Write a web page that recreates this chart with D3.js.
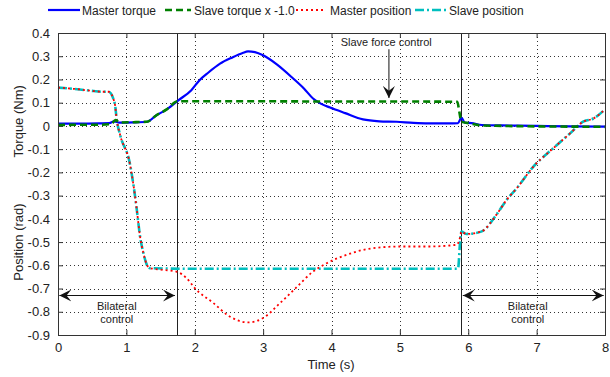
<!DOCTYPE html>
<html>
<head>
<meta charset="utf-8">
<script src="https://cdn.jsdelivr.net/npm/d3@7"></script>
<style>
  body { margin: 0; background: #fff; }
  svg text { font-family: "Liberation Sans", Arial, sans-serif; fill: #222; }
</style>
</head>
<body>
<svg id="chart" width="610" height="377"></svg>
<script>
// values
var xTicks = [0, 1, 2, 3, 4, 5, 6, 7, 8];
var yTicks = [0.4, 0.3, 0.2, 0.1, 0, -0.1, -0.2, -0.3, -0.4, -0.5, -0.6, -0.7, -0.8, -0.9];

var masterTorqueT = [0, 0.3, 0.6, 0.75, 0.82, 0.9, 1.1, 1.3, 1.44, 1.59, 1.76, 1.95, 2.07, 2.2, 2.37, 2.55, 2.7, 2.78, 2.88, 3.0, 3.2, 3.44, 3.6, 3.73, 3.85, 3.98, 4.2, 4.46, 4.7, 4.95, 5.2, 5.41, 5.7, 5.85, 5.9, 5.95, 6.05, 6.2, 6.5, 7.0, 7.5, 8.0];
var masterTorque  = [0.01, 0.01, 0.011, 0.012, 0.02, 0.014, 0.015, 0.018, 0.046, 0.071, 0.11, 0.154, 0.197, 0.23, 0.268, 0.295, 0.314, 0.321, 0.318, 0.304, 0.265, 0.204, 0.16, 0.118, 0.095, 0.079, 0.055, 0.028, 0.02, 0.018, 0.013, 0.011, 0.011, 0.012, 0.036, 0.014, 0.012, 0.004, 0.002, 0.0, -0.002, -0.003];

var slaveTorqueT = [0, 0.3, 0.6, 0.78, 0.84, 0.9, 1.1, 1.3, 1.44, 1.59, 1.75, 1.8, 3.0, 4.0, 5.0, 5.84, 5.87, 5.9, 6.0, 6.2, 6.5, 7.0, 7.5, 8.0];
var slaveTorque  = [0.004, 0.005, 0.005, 0.008, 0.025, 0.015, 0.016, 0.018, 0.046, 0.071, 0.106, 0.106, 0.106, 0.105, 0.105, 0.104, 0.06, 0.018, 0.012, 0.002, 0.0, -0.002, -0.003, -0.004];

var masterPosT = [0, 0.32, 0.52, 0.66, 0.74, 0.83, 0.86, 0.91, 1.05, 1.1, 1.15, 1.2, 1.25, 1.3, 1.345, 1.54, 1.73, 1.88, 2.0, 2.27, 2.51, 2.78, 3.0, 3.25, 3.49, 3.73, 3.93, 4.22, 4.51, 5.0, 5.41, 5.83, 5.88, 5.9, 5.97, 6.19, 6.41, 6.56, 6.71, 6.95, 7.24, 7.49, 7.68, 7.83, 8.0];
var masterPos  = [0.165, 0.157, 0.15, 0.147, 0.147, 0.097, 0.025, -0.04, -0.161, -0.247, -0.355, -0.476, -0.548, -0.598, -0.612, -0.62, -0.627, -0.655, -0.698, -0.762, -0.82, -0.846, -0.827, -0.762, -0.694, -0.627, -0.591, -0.555, -0.531, -0.519, -0.519, -0.512, -0.48, -0.455, -0.465, -0.455, -0.383, -0.319, -0.268, -0.176, -0.097, -0.032, 0.018, 0.032, 0.071];

var slavePosT = [0, 0.32, 0.52, 0.66, 0.74, 0.83, 0.86, 0.91, 1.05, 1.1, 1.15, 1.2, 1.25, 1.3, 1.345, 2.0, 3.0, 4.0, 5.0, 5.85, 5.88, 5.9, 5.97, 6.19, 6.41, 6.56, 6.71, 6.95, 7.24, 7.49, 7.68, 7.83, 8.0];
var slavePos  = [0.165, 0.157, 0.15, 0.147, 0.147, 0.097, 0.025, -0.04, -0.161, -0.247, -0.355, -0.476, -0.548, -0.598, -0.612, -0.615, -0.615, -0.615, -0.615, -0.615, -0.505, -0.455, -0.465, -0.455, -0.383, -0.319, -0.268, -0.176, -0.097, -0.032, 0.018, 0.032, 0.071];

var modeLines = [1.74, 5.895];

var svg = d3.select("#chart"),
    pl = 58, pr = 605, pt = 33, pb = 335;

var x = d3.scaleLinear().domain([0, 8]).range([pl, pr]);
var y = d3.scaleLinear().domain([-0.9, 0.4]).range([pb, pt]);
var fmt = function(d) { return String(Math.round(d * 10) / 10); };

// grid
var grid = svg.append("g").attr("stroke", "#333").attr("stroke-width", 1).attr("stroke-dasharray", "1,3");
grid.selectAll(".gx").data(xTicks.slice(1, -1)).enter().append("line")
  .attr("x1", function(d) { return Math.round(x(d)) + 0.5; }).attr("x2", function(d) { return Math.round(x(d)) + 0.5; })
  .attr("y1", pt).attr("y2", pb);
grid.selectAll(".gy").data(yTicks.slice(1, -1)).enter().append("line")
  .attr("y1", function(d) { return Math.round(y(d)) + 0.5; }).attr("y2", function(d) { return Math.round(y(d)) + 0.5; })
  .attr("x1", pl).attr("x2", pr);

// axes, ticks inside like matlab
function clean(g) { g.select(".domain").remove(); g.selectAll("text").attr("fill", "#222"); }
svg.append("g").attr("transform", "translate(0," + pb + ")")
  .call(d3.axisBottom(x).tickValues(xTicks).tickSizeInner(-5).tickSizeOuter(0).tickPadding(8).tickFormat(fmt))
  .call(clean).attr("font-size", 13);
svg.append("g").attr("transform", "translate(0," + pt + ")")
  .call(d3.axisTop(x).tickValues(xTicks).tickSizeInner(-5).tickSizeOuter(0).tickFormat(""))
  .call(clean);
svg.append("g").attr("transform", "translate(" + pl + ",0)")
  .call(d3.axisLeft(y).tickValues(yTicks).tickSizeInner(-5).tickSizeOuter(0).tickPadding(8).tickFormat(fmt))
  .call(clean).attr("font-size", 13);
svg.append("g").attr("transform", "translate(" + pr + ",0)")
  .call(d3.axisRight(y).tickValues(yTicks).tickSizeInner(-5).tickSizeOuter(0).tickFormat(""))
  .call(clean);
svg.selectAll(".tick line").attr("stroke", "#333");

// mode switch lines
svg.selectAll(".mode").data(modeLines).enter().append("line")
  .attr("x1", function(d) { return Math.round(x(d)) + 0.5; }).attr("x2", function(d) { return Math.round(x(d)) + 0.5; })
  .attr("y1", pt).attr("y2", pb).attr("stroke", "#222").attr("stroke-width", 1);

// series
var series = [
  {name: "Master torque", t: masterTorqueT, v: masterTorque, color: "#0000ff", w: 2.2, dash: null},
  {name: "Slave torque x -1.0", t: slaveTorqueT, v: slaveTorque, color: "#008000", w: 2.6, dash: "7,4"},
  {name: "Master position", t: masterPosT, v: masterPos, color: "#ff0000", w: 1.8, dash: "2,3"},
  {name: "Slave position", t: slavePosT, v: slavePos, color: "#00bfbf", w: 2.6, dash: "9,3,2,3"}
];
var line = d3.line().x(function(d) { return x(d[0]); }).y(function(d) { return y(d[1]); }).curve(d3.curveMonotoneX);
var drawOrder = [3, 2, 0, 1];
drawOrder.forEach(function(i) {
  var s = series[i];
  svg.append("path")
    .datum(s.t.map(function(t, k) { return [t, s.v[k]]; }))
    .attr("d", line).attr("fill", "none")
    .attr("stroke", s.color).attr("stroke-width", s.w)
    .attr("stroke-dasharray", s.dash);
});

// frame
svg.append("rect").attr("x", pl + 0.5).attr("y", pt + 0.5).attr("width", pr - pl).attr("height", pb - pt)
  .attr("fill", "none").attr("stroke", "#333").attr("stroke-width", 1);

// legend
var legLine = [[48, 80], [165, 191], [296, 324], [415, 446]];
var legText = [82, 194, 330, 449];
series.forEach(function(s, i) {
  var g = svg.append("g");
  g.append("line").attr("x1", legLine[i][0]).attr("x2", legLine[i][1]).attr("y1", 10).attr("y2", 10)
    .attr("stroke", s.color).attr("stroke-width", s.w).attr("stroke-dasharray", s.dash);
  g.append("text").attr("x", legText[i]).attr("y", 14.5).attr("font-size", 12).text(s.name);
});

// axis titles
svg.append("text").attr("x", 331).attr("y", 369).attr("text-anchor", "middle").attr("font-size", 13).text("Time (s)");
svg.append("text").attr("transform", "translate(23," + y(0.02) + ") rotate(-90)")
  .attr("text-anchor", "middle").attr("font-size", 13).text("Torque (Nm)");
svg.append("text").attr("transform", "translate(23," + y(-0.5) + ") rotate(-90)")
  .attr("text-anchor", "middle").attr("font-size", 13).text("Position (rad)");

// annotations
var defs = svg.append("defs");
defs.append("marker").attr("id", "head").attr("viewBox", "0 0 10 10").attr("refX", 10).attr("refY", 5)
  .attr("markerWidth", 12).attr("markerHeight", 12).attr("markerUnits", "userSpaceOnUse").attr("orient", "auto-start-reverse")
  .append("path").attr("d", "M0,0 L10,5 L0,10 L4,5 Z").attr("fill", "#111");

svg.append("text").attr("x", x(4.8)).attr("y", y(0.345)).attr("text-anchor", "middle").attr("font-size", 11).text("Slave force control");
svg.append("line").attr("x1", x(4.84)).attr("x2", x(4.84)).attr("y1", y(0.33)).attr("y2", y(0.12))
  .attr("stroke", "#111").attr("stroke-width", 1).attr("marker-end", "url(#head)");

[[0.02, 1.71, 0.86], [5.92, 7.98, 6.87]].forEach(function(a) {
  svg.append("line").attr("x1", x(a[0])).attr("x2", x(a[1])).attr("y1", y(-0.73)).attr("y2", y(-0.73))
    .attr("stroke", "#111").attr("stroke-width", 1)
    .attr("marker-start", "url(#head)").attr("marker-end", "url(#head)");
  svg.append("text").attr("x", x(a[2])).attr("y", y(-0.793)).attr("text-anchor", "middle").attr("font-size", 11).text("Bilateral");
  svg.append("text").attr("x", x(a[2])).attr("y", y(-0.85)).attr("text-anchor", "middle").attr("font-size", 11).text("control");
});
</script>
</body>
</html>
